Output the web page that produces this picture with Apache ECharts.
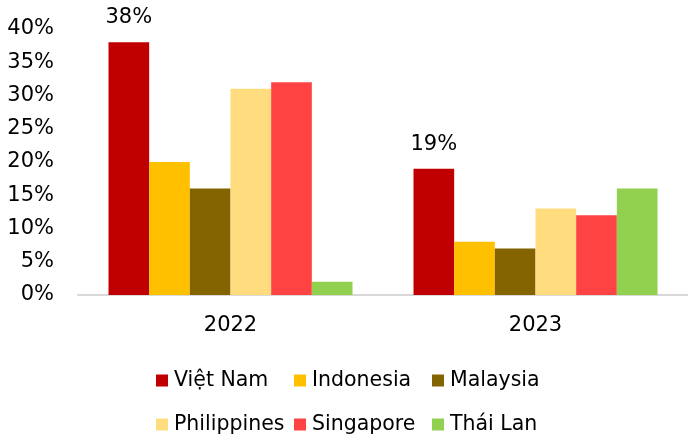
<!DOCTYPE html>
<html>
<head>
<meta charset="utf-8">
<style>
  html, body { margin: 0; padding: 0; background: #fff; }
  #chart { width: 688px; height: 435px; }
</style>
<script src="https://cdn.jsdelivr.net/npm/echarts@6/dist/echarts.min.js"></script>
</head>
<body>
<div id="chart"></div>
<script>
// dữ liệu
const years = ["2022", "2023"];
const countries = ["Việt Nam", "Indonesia", "Malaysia", "Philippines", "Singapore", "Thái Lan"];
const vietNam = [38, 19];
const indonesia = [20, 8];
const malaysia = [16, 7];
const philippines = [31, 13];
const singapore = [32, 12];
const thaiLan = [2, 16];
const yTicks = { min: 0, max: 40, step: 5 };

const colors = ["#C00000", "#FFC000", "#846400", "#FFDC7E", "#FF4343", "#92D050"];
const values = [vietNam, indonesia, malaysia, philippines, singapore, thaiLan];
const font = "DejaVu Sans";

let myChart = echarts.init(document.getElementById("chart"));

// chú thích: 3 cột, mỗi cột 2 dòng
const legendCols = [156, 294, 432];
const legends = legendCols.map((x, i) => ({
  orient: "vertical",
  left: x,
  top: 370,
  padding: 0,
  itemGap: 23,
  itemWidth: 12,
  itemHeight: 12,
  icon: "rect",
  selectedMode: false,
  textStyle: { fontFamily: font, fontSize: 20.5, color: "#000", padding: [0, 0, 0, 1] },
  data: [countries[i], countries[i + 3]],
}));

let option = {
  animation: false,
  color: colors,
  textStyle: { fontFamily: font },
  grid: {
    left: 78,
    right: -3,
    top: 29,
    bottom: 140,
  },
  legend: legends,
  xAxis: {
    type: "category",
    data: years,
    axisTick: { show: false },
    axisLine: { lineStyle: { color: "#D9D9D9", width: 2 } },
    axisLabel: { color: "#000", fontSize: 21, fontFamily: font, margin: 20 },
  },
  yAxis: {
    type: "value",
    min: yTicks.min,
    max: yTicks.max,
    interval: yTicks.step,
    splitLine: { show: false },
    axisLine: { show: false },
    axisTick: { show: false },
    axisLabel: {
      color: "#000",
      fontSize: 21,
      fontFamily: font,
      margin: 24,
      formatter: "{value}%",
    },
  },
  series: countries.map((name, i) => ({
    name: name,
    type: "bar",
    barGap: "0%",
    barCategoryGap: "20%",
    data: values[i],
    label: {
      show: i === 0,
      position: "top",
      distance: 14,
      formatter: "{c}%",
      color: "#000",
      fontSize: 21,
      fontFamily: font,
    },
  })),
};
myChart.setOption(option);
</script>
</body>
</html>
